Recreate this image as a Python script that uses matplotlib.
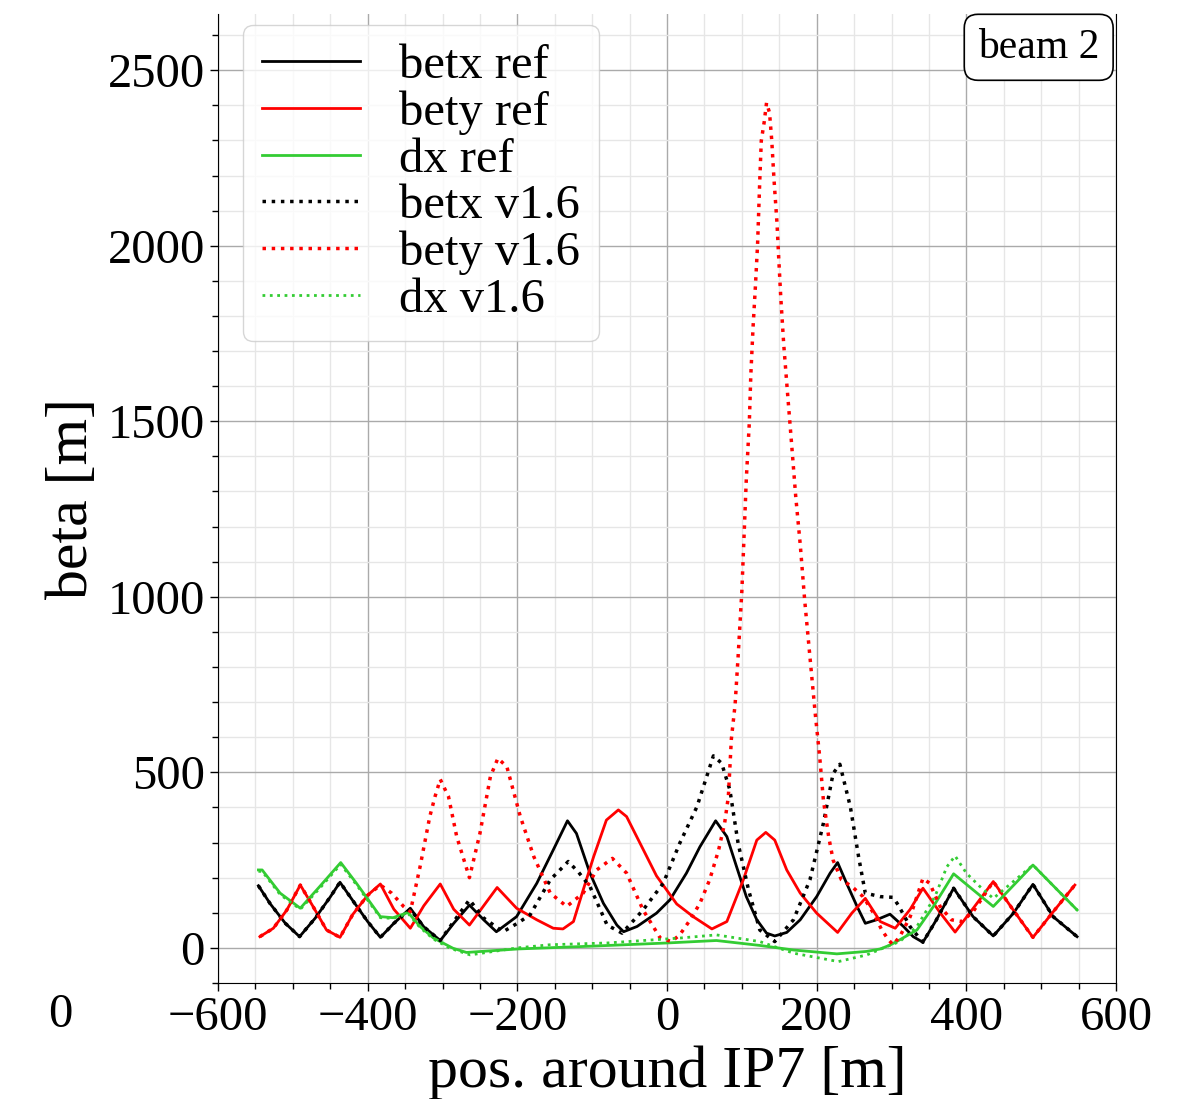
import numpy as np
import matplotlib
matplotlib.use("Agg")
import matplotlib.pyplot as plt
from matplotlib.ticker import MultipleLocator

plt.rcParams['font.family'] = ['Liberation Serif', 'DejaVu Serif']

# (s [m], value) pairs
betx_ref = [(-546, 177), (-530, 125), (-510, 70), (-491, 32), (-470, 85), (-450, 145), (-437, 187),
            (-420, 135), (-400, 75), (-383, 30), (-365, 70), (-343, 113), (-325, 60), (-303, 21),
            (-285, 70), (-264, 122), (-245, 80), (-228, 46), (-201, 89), (-174, 184), (-152, 279),
            (-133, 362), (-121, 326), (-103, 213), (-85, 127), (-67, 65), (-58, 46), (-40, 61),
            (-14, 99), (4, 137), (26, 213), (44, 288), (65, 362), (80, 317), (93, 231), (106, 146),
            (120, 80), (133, 42), (144, 34), (160, 44), (178, 80), (200, 146), (218, 213), (228, 243),
            (240, 184), (254, 118), (265, 70), (280, 80), (298, 96), (316, 61), (329, 32), (342, 16),
            (360, 80), (383, 170), (409, 89), (436, 34), (463, 99), (489, 181), (516, 89), (548, 32)]

betx_v16 = [(-546, 177), (-530, 125), (-510, 70), (-491, 32), (-470, 85), (-450, 145), (-437, 187),
            (-420, 135), (-400, 75), (-383, 30), (-365, 70), (-343, 110), (-325, 60), (-303, 21),
            (-285, 75), (-264, 137), (-245, 85), (-219, 46), (-200, 70), (-183, 94), (-156, 194),
            (-132, 246), (-118, 215), (-103, 175), (-80, 65), (-60, 42), (-32, 108), (-5, 184),
            (17, 298), (40, 402), (62, 547), (73, 526), (84, 450), (95, 298), (109, 165), (124, 51),
            (144, 18), (169, 80), (191, 194), (209, 355), (222, 497), (231, 523), (245, 402),
            (256, 260), (265, 156), (285, 146), (302, 144), (309, 122), (325, 60), (342, 16),
            (360, 80), (383, 170), (409, 89), (436, 34), (463, 99), (489, 181), (516, 89), (548, 32)]

bety_ref = [(-544, 32), (-526, 56), (-508, 108), (-490, 179), (-473, 118), (-455, 51), (-437, 30),
            (-420, 95), (-400, 150), (-383, 182), (-365, 110), (-343, 56), (-325, 120), (-303, 182),
            (-285, 110), (-264, 65), (-245, 120), (-227, 172), (-201, 113), (-174, 80), (-152, 56),
            (-139, 54), (-125, 75), (-112, 165), (-98, 260), (-81, 364), (-65, 393), (-54, 374),
            (-36, 298), (-14, 205), (13, 125), (35, 89), (60, 54), (80, 75), (102, 194), (120, 307),
            (132, 329), (144, 307), (160, 222), (178, 156), (200, 99), (228, 44), (247, 99),
            (265, 141), (285, 75), (305, 56), (325, 110), (342, 170), (365, 100), (385, 45),
            (410, 115), (436, 189), (462, 110), (489, 30), (515, 100), (545, 179)]

bety_v16 = [(-544, 32), (-526, 56), (-508, 108), (-490, 179), (-473, 118), (-455, 51), (-437, 30),
            (-420, 95), (-400, 150), (-383, 179), (-368, 156), (-352, 118), (-343, 103), (-330, 231),
            (-317, 374), (-310, 431), (-303, 480), (-292, 431), (-281, 317), (-264, 200), (-250, 326),
            (-236, 488), (-226, 540), (-214, 516), (-196, 374), (-178, 260), (-156, 156), (-134, 118),
            (-112, 156), (-94, 222), (-73, 255), (-54, 213), (-32, 108), (-9, 28), (6, 18), (17, 37),
            (31, 80), (44, 127), (57, 194), (69, 279), (77, 355), (82, 431), (86, 595), (91, 693),
            (95, 829), (100, 1015), (103, 1175), (106, 1336), (110, 1496), (112, 1632), (115, 1768),
            (118, 1879), (121, 2002), (122, 2064), (124, 2188), (126, 2299), (130, 2354), (133, 2407),
            (137, 2379), (140, 2299), (143, 2188), (147, 2064), (149, 1977), (152, 1854), (156, 1718),
            (161, 1582), (167, 1422), (172, 1286), (178, 1150), (184, 990), (191, 829), (198, 669),
            (204, 545), (209, 421), (216, 317), (222, 250), (233, 194), (247, 175), (262, 146),
            (276, 99), (287, 51), (296, 23), (302, 9), (311, 32), (325, 89), (342, 198), (351, 184),
            (365, 118), (380, 80), (394, 75), (409, 103), (436, 189), (462, 110), (489, 30),
            (515, 100), (545, 179)]

dx_ref = [(-546, 222), (-541, 222), (-517, 156), (-490, 113), (-464, 175), (-436, 243), (-415, 184),
          (-383, 89), (-366, 86), (-346, 101), (-330, 61), (-312, 28), (-286, -1), (-268, -13),
          (-199, -3), (-100, 5), (0, 14), (66, 21), (124, 7), (169, -6), (227, -17), (267, -10),
          (285, -3), (298, 8), (311, 23), (334, 51), (356, 118), (383, 211), (436, 118), (489, 236),
          (548, 108)]

dx_v16 = [(-546, 218), (-541, 218), (-517, 152), (-490, 110), (-464, 170), (-436, 238), (-415, 180),
          (-383, 86), (-366, 84), (-346, 98), (-330, 58), (-312, 25), (-290, -1), (-263, -20),
          (-200, 0), (-156, 9), (-80, 14), (17, 28), (66, 37), (124, 18), (169, -15), (229, -39),
          (267, -20), (294, 4), (311, 18), (334, 61), (358, 146), (374, 231), (385, 262), (400, 213),
          (418, 175), (436, 141), (489, 236), (548, 108)]

fig = plt.figure(figsize=(12.04, 10.99), dpi=100)
ax = fig.add_axes([218 / 1204, 116 / 1099, 898 / 1204, 969 / 1099])

green = '#33cc33'
series = [
    (betx_ref, 'k', '-', 2.0, 'betx ref'),
    (bety_ref, 'r', '-', 2.0, 'bety ref'),
    (dx_ref, green, '-', 2.0, 'dx ref'),
    (betx_v16, 'k', ':', 2.5, 'betx v1.6'),
    (bety_v16, 'r', ':', 2.5, 'bety v1.6'),
    (dx_v16, green, ':', 2.0, 'dx v1.6'),
]
for pts, col, ls, lw, lab in series:
    s, v = np.array(pts).T
    ax.plot(s, v, color=col, ls=ls, lw=lw, label=lab)

ax.set_xlim(-600, 600)
ax.set_ylim(-100, 2660)
ax.xaxis.set_major_locator(MultipleLocator(200))
ax.xaxis.set_minor_locator(MultipleLocator(50))
ax.yaxis.set_major_locator(MultipleLocator(500))
ax.yaxis.set_minor_locator(MultipleLocator(100))
ax.grid(which='major', color='#aaaaaa', lw=1.0)
ax.grid(which='minor', color='#e6e6e6', lw=1.0)
ax.set_axisbelow(True)
ax.spines['top'].set_visible(False)
ax.tick_params(which='major', labelsize=35, length=6, width=1)
ax.tick_params(which='minor', length=4, width=1)

ax.set_xlabel('pos. around IP7 [m]', fontsize=43, labelpad=4)
ax.set_ylabel('beta [m]', fontsize=43, labelpad=5)

leg = ax.legend(loc='upper left', bbox_to_anchor=(25 / 898, 1 - 11 / 969), borderaxespad=0,
                fontsize=35, labelspacing=0.05, handlelength=2.0, handletextpad=0.8,
                fancybox=True, framealpha=0.8)

ax.text(0.9815, 0.9855, 'beam 2', transform=ax.transAxes, ha='right', va='top', fontsize=30,
        bbox=dict(boxstyle='round,pad=0.33', fc='white', ec='black', lw=1.2))

fig.text(60 / 1204, 1 - 1015 / 1099, '0', fontsize=35, ha='center', va='center')

fig.savefig('out.png', dpi=100)
